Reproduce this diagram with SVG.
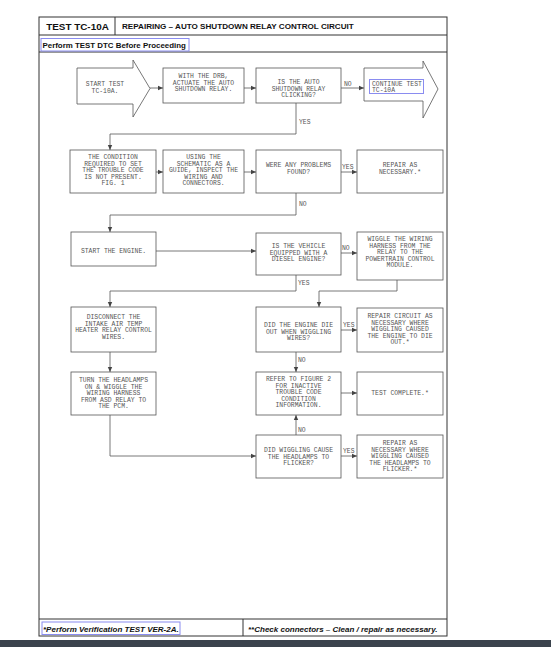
<svg xmlns="http://www.w3.org/2000/svg" width="551" height="647" viewBox="0 0 551 647">
<defs>
<marker id="ah" markerWidth="6" markerHeight="6" refX="5" refY="3" orient="auto" markerUnits="userSpaceOnUse">
<path d="M0,0.8 L5,3 L0,5.2 Z" fill="#444"/>
</marker>
<style>
.frame{fill:none;stroke:#333;stroke-width:1}
.box{fill:#fff;stroke:#555;stroke-width:0.8}
.ln{fill:none;stroke:#555;stroke-width:0.8}
.arr{fill:none;stroke:#555;stroke-width:0.8;marker-end:url(#ah)}
.t{font-family:"Liberation Mono","DejaVu Sans Mono",monospace;font-size:6.4px;fill:#555;text-anchor:middle}
.lab{font-family:"Liberation Mono","DejaVu Sans Mono",monospace;font-size:6.4px;fill:#555}
.hd{font-family:"Liberation Sans",Arial,sans-serif;font-weight:bold;fill:#111}
.ft{font-family:"Liberation Sans",Arial,sans-serif;font-weight:bold;font-style:italic;fill:#111;font-size:8px}
.hl{fill:none;stroke:#8a8cf0;stroke-width:1}
</style>
</defs>
<rect width="551" height="647" fill="#fff"/>
<g id="frame">
<rect class="frame" x="39" y="17" width="408" height="619"/>
<line class="frame" x1="39" y1="35" x2="447" y2="35"/>
<line class="frame" x1="115" y1="17" x2="115" y2="35"/>
<line class="frame" x1="39" y1="52" x2="447" y2="52"/>
<line class="frame" x1="39" y1="619" x2="447" y2="619"/>
<line class="frame" x1="243" y1="619" x2="243" y2="636"/>
<text class="hd" x="77.5" y="30" font-size="9.9" text-anchor="middle">TEST TC-10A</text>
<text class="hd" x="122" y="29" font-size="8.1">REPAIRING – AUTO SHUTDOWN RELAY CONTROL CIRCUIT</text>
<rect class="hl" x="41" y="38.5" width="148" height="12.5"/>
<text class="hd" x="42.5" y="48" font-size="7.9">Perform TEST DTC Before Proceeding</text>
<rect class="hl" x="42" y="622" width="138" height="12.5"/>
<text class="ft" x="43" y="632">*Perform Verification TEST VER-2A.</text>
<text class="ft" x="248" y="632">**Check connectors – Clean / repair as necessary.</text>
</g>
<rect x="0" y="640" width="551" height="7" fill="#3b434d"/>

<g id="connectors">
<line class="arr" x1="150" y1="88" x2="163" y2="88"/>
<line class="arr" x1="244" y1="88" x2="256" y2="88"/>
<line class="arr" x1="341" y1="88" x2="364" y2="88"/>
<polyline class="arr" points="296,103 296,134 110,134 110,150"/>
<line class="arr" x1="156" y1="172" x2="163" y2="172"/>
<line class="arr" x1="244" y1="172" x2="256" y2="172"/>
<line class="arr" x1="341" y1="172" x2="357" y2="172"/>
<polyline class="arr" points="296,193 296,215 110,215 110,232"/>
<line class="arr" x1="156" y1="251" x2="256" y2="251"/>
<line class="arr" x1="341" y1="253" x2="357" y2="253"/>
<polyline class="arr" points="296,275 296,291 110,291 110,307"/>
<polyline class="arr" points="397,280 397,291 319,291 319,307"/>
<line class="arr" x1="110" y1="352" x2="110" y2="372"/>
<line class="arr" x1="341" y1="330" x2="357" y2="330"/>
<line class="arr" x1="296" y1="352" x2="296" y2="372"/>
<line class="arr" x1="341" y1="393" x2="357" y2="393"/>
<polyline class="arr" points="110,415 110,456 256,456"/>
<line class="arr" x1="296" y1="435" x2="296" y2="415"/>
<line class="arr" x1="341" y1="456" x2="357" y2="456"/>
<text class="lab" x="344" y="86">NO</text>
<text class="lab" x="299" y="124">YES</text>
<text class="lab" x="342" y="169">YES</text>
<text class="lab" x="299" y="206">NO</text>
<text class="lab" x="342" y="250">NO</text>
<text class="lab" x="298" y="285">YES</text>
<text class="lab" x="343" y="327">YES</text>
<text class="lab" x="298" y="362">NO</text>
<text class="lab" x="298" y="432">NO</text>
<text class="lab" x="343" y="453">YES</text>
</g>

<g id="n_start">
<path class="box" d="M77,68 H133 V60 L150,88.5 L133,117 V104 H77 Z"/>
<text class="t" x="105" y="86">START TEST</text>
<text class="t" x="105" y="92.6">TC-10A.</text>
</g>
<g id="n_drb">
<rect class="box" x="163" y="68" width="81" height="35"/>
<text class="t" x="203.5" y="78">WITH THE DRB,</text>
<text class="t" x="203.5" y="84.6">ACTUATE THE AUTO</text>
<text class="t" x="203.5" y="91.2">SHUTDOWN RELAY.</text>
</g>
<g id="n_asd">
<rect class="box" x="256" y="68" width="85" height="35"/>
<text class="t" x="298.5" y="84">IS THE AUTO</text>
<text class="t" x="298.5" y="90.6">SHUTDOWN RELAY</text>
<text class="t" x="298.5" y="97.2">CLICKING?</text>
</g>
<g id="n_continue">
<path class="box" d="M364,68 H423 V61 L438,89 L423,118 V101 H364 Z"/>
<rect class="hl" x="369.5" y="79.5" width="54" height="14"/>
<text class="lab" x="372" y="85.5">CONTINUE TEST</text>
<text class="lab" x="372" y="91.5"> TC-10A</text>
</g>
<g id="n_condition">
<rect class="box" x="70" y="150" width="86" height="43"/>
<text class="t" x="113" y="159">THE CONDITION</text>
<text class="t" x="113" y="165.6">REQUIRED TO SET</text>
<text class="t" x="113" y="172.2">THE TROUBLE CODE</text>
<text class="t" x="113" y="178.8">IS NOT PRESENT.</text>
<text class="t" x="113" y="185.4">FIG. 1</text>
</g>
<g id="n_schematic">
<rect class="box" x="163" y="150" width="81" height="43"/>
<text class="t" x="203.5" y="159">USING THE</text>
<text class="t" x="203.5" y="165.6">SCHEMATIC AS A</text>
<text class="t" x="203.5" y="172.2">GUIDE, INSPECT THE</text>
<text class="t" x="203.5" y="178.8">WIRING AND</text>
<text class="t" x="203.5" y="185.4">CONNECTORS.</text>
</g>
<g id="n_problems">
<rect class="box" x="256" y="150" width="85" height="43"/>
<text class="t" x="298.5" y="167">WERE ANY PROBLEMS</text>
<text class="t" x="298.5" y="173.6">FOUND?</text>
</g>
<g id="n_repair1">
<rect class="box" x="357" y="150" width="86" height="43"/>
<text class="t" x="400" y="167">REPAIR AS</text>
<text class="t" x="400" y="173.6">NECESSARY.*</text>
</g>
<g id="n_engine">
<rect class="box" x="71" y="232" width="85" height="34"/>
<text class="t" x="113.5" y="253">START THE ENGINE.</text>
</g>
<g id="n_diesel">
<rect class="box" x="256" y="233" width="85" height="42"/>
<text class="t" x="298.5" y="248">IS THE VEHICLE</text>
<text class="t" x="298.5" y="254.6">EQUIPPED WITH A</text>
<text class="t" x="298.5" y="261.2">DIESEL ENGINE?</text>
</g>
<g id="n_wiggle">
<rect class="box" x="357" y="232" width="86" height="48"/>
<text class="t" x="400" y="241">WIGGLE THE WIRING</text>
<text class="t" x="400" y="247.6">HARNESS FROM THE</text>
<text class="t" x="400" y="254.2">RELAY TO THE</text>
<text class="t" x="400" y="260.8">POWERTRAIN CONTROL</text>
<text class="t" x="400" y="267.4">MODULE.</text>
</g>
<g id="n_disconnect">
<rect class="box" x="71" y="307" width="85" height="45"/>
<text class="t" x="113.5" y="319">DISCONNECT THE</text>
<text class="t" x="113.5" y="325.6">INTAKE AIR TEMP</text>
<text class="t" x="113.5" y="332.2">HEATER RELAY CONTROL</text>
<text class="t" x="113.5" y="338.8">WIRES.</text>
</g>
<g id="n_die">
<rect class="box" x="256" y="307" width="85" height="45"/>
<text class="t" x="298.5" y="327">DID THE ENGINE DIE</text>
<text class="t" x="298.5" y="333.6">OUT WHEN WIGGLING</text>
<text class="t" x="298.5" y="340.2">WIRES?</text>
</g>
<g id="n_repair2">
<rect class="box" x="357" y="308" width="86" height="44"/>
<text class="t" x="400" y="318">REPAIR CIRCUIT AS</text>
<text class="t" x="400" y="324.6">NECESSARY WHERE</text>
<text class="t" x="400" y="331.2">WIGGLING CAUSED</text>
<text class="t" x="400" y="337.8">THE ENGINE TO DIE</text>
<text class="t" x="400" y="344.4">OUT.*</text>
</g>
<g id="n_turn">
<rect class="box" x="71" y="372" width="85" height="43"/>
<text class="t" x="113.5" y="382">TURN THE HEADLAMPS</text>
<text class="t" x="113.5" y="388.6">ON &amp; WIGGLE THE</text>
<text class="t" x="113.5" y="395.2">WIRING HARNESS</text>
<text class="t" x="113.5" y="401.8">FROM ASD RELAY TO</text>
<text class="t" x="113.5" y="408.4">THE PCM.</text>
</g>
<g id="n_refer">
<rect class="box" x="256" y="372" width="85" height="43"/>
<text class="t" x="298.5" y="381">REFER TO FIGURE 2</text>
<text class="t" x="298.5" y="387.6">FOR INACTIVE</text>
<text class="t" x="298.5" y="394.2">TROUBLE CODE</text>
<text class="t" x="298.5" y="400.8">CONDITION</text>
<text class="t" x="298.5" y="407.4">INFORMATION.</text>
</g>
<g id="n_complete">
<rect class="box" x="357" y="372" width="86" height="43"/>
<text class="t" x="400" y="395">TEST COMPLETE.*</text>
</g>
<g id="n_flicker">
<rect class="box" x="256" y="435" width="85" height="43"/>
<text class="t" x="298.5" y="452">DID WIGGLING CAUSE</text>
<text class="t" x="298.5" y="458.6">THE HEADLAMPS TO</text>
<text class="t" x="298.5" y="465.2">FLICKER?</text>
</g>
<g id="n_repair3">
<rect class="box" x="357" y="435" width="86" height="43"/>
<text class="t" x="400" y="445">REPAIR AS</text>
<text class="t" x="400" y="451.6">NECESSARY WHERE</text>
<text class="t" x="400" y="458.2">WIGGLING CAUSED</text>
<text class="t" x="400" y="464.8">THE HEADLAMPS TO</text>
<text class="t" x="400" y="471.4">FLICKER.*</text>
</g>
</svg>
